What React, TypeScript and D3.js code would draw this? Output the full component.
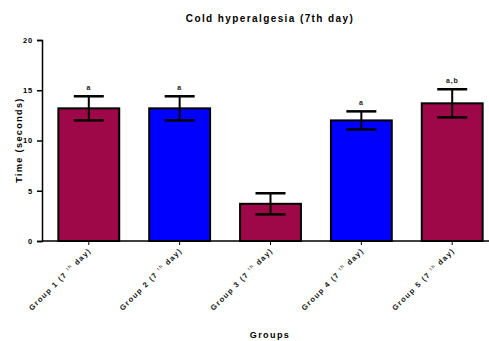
import { useRef, useEffect } from "react";
import * as d3 from "d3";

const groups = ["Group 1", "Group 2", "Group 3", "Group 4", "Group 5"];
const means = [13.2, 13.2, 3.7, 12.0, 13.7];
const sems = [1.2, 1.2, 1.05, 0.9, 1.4];
const letters = ["a", "a", "", "a", "a,b"];
const colors = ["#9e0848", "#0000ff", "#9e0848", "#0000ff", "#9e0848"];
const yTicks = [0, 5, 10, 15, 20];

const W = 489;
const H = 341;
const font = "'Liberation Sans', Arial, sans-serif";

export default function App() {
  const svgRef = useRef<SVGSVGElement>(null);

  useEffect(() => {
    const svg = d3.select(svgRef.current);
    svg.selectAll("*").remove();

    const x = d3
      .scaleBand()
      .domain(groups)
      .range([42, 499])
      .paddingInner(0.33)
      .paddingOuter(0.18);
    const y = d3.scaleLinear().domain([0, 20]).range([241, 40]);

    // title
    svg
      .append("text")
      .attr("x", 270)
      .attr("y", 22)
      .attr("text-anchor", "middle")
      .attr("font-family", font)
      .attr("font-weight", "bold")
      .attr("font-size", 10)
      .attr("letter-spacing", 1.4)
      .text("Cold hyperalgesia (7th day)");

    // bars
    const g = svg.append("g");
    groups.forEach((grp, i) => {
      const cx = x(grp)! + x.bandwidth() / 2;
      g.append("rect")
        .attr("x", x(grp)!)
        .attr("y", y(means[i]))
        .attr("width", x.bandwidth())
        .attr("height", y(0) - y(means[i]))
        .attr("fill", colors[i])
        .attr("stroke", "#000")
        .attr("stroke-width", 2);

      // error bars
      const hi = y(means[i] + sems[i]);
      const lo = y(means[i] - sems[i]);
      g.append("line")
        .attr("x1", cx).attr("x2", cx)
        .attr("y1", hi).attr("y2", lo)
        .attr("stroke", "#000").attr("stroke-width", 2);
      [hi, lo].forEach((yy) =>
        g.append("line")
          .attr("x1", cx - 15).attr("x2", cx + 15)
          .attr("y1", yy).attr("y2", yy)
          .attr("stroke", "#000").attr("stroke-width", 2.5)
      );

      if (letters[i]) {
        g.append("text")
          .attr("x", cx)
          .attr("y", hi - 6)
          .attr("text-anchor", "middle")
          .attr("font-family", font)
          .attr("font-weight", "bold")
          .attr("font-size", 7)
          .attr("letter-spacing", 0.8)
          .attr("fill", "#222")
          .text(letters[i]);
      }

      // x tick
      g.append("line")
        .attr("x1", cx).attr("x2", cx)
        .attr("y1", 241).attr("y2", 245)
        .attr("stroke", "#000").attr("stroke-width", 1);

      // x label, rotated
      const lbl = g
        .append("text")
        .attr("transform", `translate(${cx + 3},${251}) rotate(-45)`)
        .attr("text-anchor", "end")
        .attr("font-family", font)
        .attr("font-weight", "bold")
        .attr("font-size", 7.5)
        .attr("letter-spacing", 1.3)
        .attr("fill", "#111");
      lbl.append("tspan").text(`${grp} (7 `);
      lbl.append("tspan")
        .attr("font-size", 5)
        .attr("font-weight", "normal")
        .attr("dy", -3)
        .text("th");
      lbl.append("tspan").attr("dy", 3).text(" day)");
    });

    // y axis
    const yAxis = svg
      .append("g")
      .attr("transform", "translate(42,0)")
      .call(d3.axisLeft(y).tickValues(yTicks).tickSize(5).tickPadding(4));
    yAxis.select(".domain").attr("stroke-width", 1.5);
    yAxis.selectAll("line").attr("stroke-width", 1.5);
    yAxis
      .selectAll("text")
      .attr("font-family", font)
      .attr("font-weight", "bold")
      .attr("font-size", 7.5)
      .attr("letter-spacing", 0.8);

    // x axis line
    svg
      .append("line")
      .attr("x1", 42).attr("x2", W)
      .attr("y1", 241).attr("y2", 241)
      .attr("stroke", "#000").attr("stroke-width", 1.5);

    // axis titles
    svg
      .append("text")
      .attr("transform", "translate(22,140) rotate(-90)")
      .attr("text-anchor", "middle")
      .attr("font-family", font)
      .attr("font-weight", "bold")
      .attr("font-size", 9)
      .attr("letter-spacing", 1.4)
      .text("Time (seconds)");

    svg
      .append("text")
      .attr("x", 270)
      .attr("y", 338)
      .attr("text-anchor", "middle")
      .attr("font-family", font)
      .attr("font-weight", "bold")
      .attr("font-size", 9)
      .attr("letter-spacing", 1.4)
      .text("Groups");
  }, []);

  return (
    <svg
      ref={svgRef}
      width={W}
      height={H}
      style={{ position: "absolute", left: 0, top: 0, background: "#fff" }}
    />
  );
}
